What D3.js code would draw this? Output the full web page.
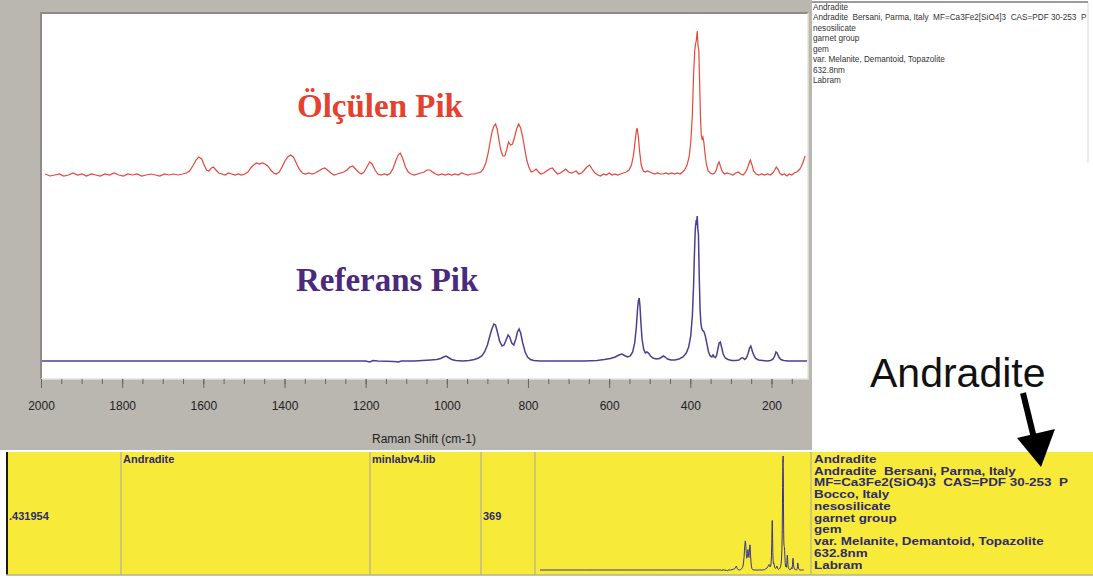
<!DOCTYPE html>
<html>
<head>
<meta charset="utf-8">
<script src="https://cdn.jsdelivr.net/npm/d3@7"></script>
<style>
body{margin:0;background:#fff}
svg{display:block}
text{white-space:pre}
</style>
</head>
<body>
<svg id="chart" width="1093" height="578"></svg>
<script>
// measured spectrum (Raman shift cm-1, intensity above baseline)
const measured=[[1990,1],[1978,-1],[1966,0],[1955,1],[1944,-1],[1932,0],[1921,2],[1910,0],[1899,1],[1888,-1],[1876,1],[1865,0],[1854,-1],[1842,1],[1831,0],[1820,2],[1808,0],[1797,-1],[1786,1],[1775,0],[1763,1],[1752,-1],[1741,0],[1730,1],[1718,0],[1707,-1],[1696,1],[1685,0],[1673,1],[1662,0],[1651,1],[1642,2],[1634,4],[1626,9],[1618,15],[1611,18],[1604,16],[1598,10],[1592,5],[1586,4],[1580,7],[1575,8],[1569,5],[1562,2],[1554,1],[1546,0],[1538,2],[1530,1],[1522,0],[1514,1],[1506,0],[1498,1],[1490,3],[1483,7],[1476,10],[1469,12],[1462,11],[1455,12],[1448,11],[1441,9],[1434,5],[1427,2],[1420,1],[1413,3],[1406,8],[1399,14],[1392,18],[1385,20],[1378,18],[1371,12],[1364,6],[1356,2],[1348,1],[1340,2],[1332,1],[1324,2],[1316,4],[1308,6],[1301,7],[1294,5],[1286,2],[1278,0],[1270,1],[1262,2],[1254,3],[1246,5],[1239,8],[1232,9],[1225,6],[1218,3],[1211,1],[1204,3],[1197,8],[1190,13],[1184,11],[1177,5],[1170,1],[1162,0],[1154,1],[1146,0],[1139,2],[1132,7],[1126,14],[1120,20],[1115,22],[1109,17],[1102,8],[1095,3],[1088,1],[1080,0],[1072,1],[1064,2],[1056,3],[1049,5],[1042,5],[1035,3],[1028,1],[1020,0],[1012,1],[1004,0],[996,1],[988,0],[980,1],[972,0],[964,2],[956,1],[948,0],[940,1],[932,1],[924,2],[916,3],[910,6],[904,12],[898,22],[893,34],[888,44],[884,49],[880,51],[876,46],[872,36],[867,25],[862,19],[857,19],[852,26],[848,33],[843,30],[838,31],[833,38],[828,46],[823,51],[818,47],[813,38],[808,26],[803,15],[798,8],[792,3],[786,4],[780,6],[774,3],[768,1],[761,2],[754,4],[747,6],[740,7],[734,4],[727,1],[720,2],[713,4],[707,6],[700,3],[693,2],[687,3],[681,4],[675,1],[668,2],[661,5],[655,8],[648,10],[642,6],[635,2],[628,0],[621,-1],[614,1],[607,0],[600,2],[593,0],[586,1],[579,0],[572,1],[565,2],[558,3],[551,5],[545,10],[540,20],[536,34],[533,44],[531,47],[528,38],[525,24],[521,10],[516,4],[511,3],[506,4],[500,3],[494,2],[488,1],[481,2],[474,1],[467,1],[460,2],[453,1],[446,2],[439,1],[432,2],[425,1],[419,3],[414,5],[408,10],[403,18],[399,32],[395,60],[392,100],[389,125],[387,131],[385,135],[383,144],[381,130],[379,124],[377,92],[375,58],[373,40],[371,36],[369,38],[367,34],[364,22],[360,10],[356,4],[351,2],[345,1],[340,2],[336,5],[332,11],[329,13],[326,9],[322,4],[316,1],[309,2],[302,1],[295,0],[288,2],[282,3],[276,1],[270,0],[265,2],[260,6],[256,11],[252,15],[248,10],[244,4],[238,1],[231,0],[224,1],[217,0],[210,1],[203,0],[197,2],[192,5],[188,8],[184,6],[180,2],[174,0],[168,1],[162,-1],[156,1],[150,0],[144,2],[138,3],[132,5],[127,8],[122,13],[117,19]]

// library reference spectrum (Andradite)
const reference=[[3600,0],[3000,0],[2500,0],[2000,0],[1800,0],[1600,0],[1400,0],[1200,0],[1190,-1],[1182,0.5],[1170,0],[1130,-0.5],[1120,-1],[1112,0],[1080,0],[1060,0.5],[1040,1],[1025,1.5],[1015,2.5],[1008,4],[1002,5],[996,3.5],[988,1.5],[978,0.5],[960,0],[945,0.5],[932,1.5],[922,3],[914,5],[907,9],[900,16],[894,25],[889,32],[884,37],[880,36],[876,30],[870,20],[864,15],[859,16],[854,21],[849,26],[845,24],[840,18],[835,16],[830,22],[826,29],[822,32],[818,28],[813,18],[807,9],[801,4],[794,1.5],[786,0.5],[770,0],[740,0],[700,0],[660,0],[630,0.5],[612,1.5],[597,2.5],[585,4],[576,6],[569,7],[562,5.5],[555,4],[548,5],[542,9],[537,18],[533,34],[530,52],[528,60],[526,63],[524,55],[522,40],[519,22],[515,12],[511,8],[507,9],[503,8],[498,5],[492,3],[484,2],[476,2.5],[470,4],[466,5],[462,4],[456,2],[448,1],[438,1],[428,2],[418,4],[410,8],[404,14],[399,25],[395,45],[392,75],[390,105],[388,130],[386,139],[384.5,138],[383,145],[381.5,132],[380,127],[378,85],[376,52],[374,38],[372,33],[370,31],[368,30],[366,29],[363,25],[359,17],[355,9],[351,5],[347,4],[344,6],[341,4],[338,3.5],[335,6],[332,12],[329,18],[326,19],[323,14],[319,7],[314,3],[307,1.5],[298,0.5],[288,0.5],[280,1],[274,3],[270,3],[266,1.5],[262,3],[258,7],[254,13],[251,15],[248,11],[244,6],[239,2.5],[232,1],[222,0.5],[210,0],[202,0.5],[196,2],[192,5],[189,9],[186,8],[182,4],[177,1.5],[170,0.5],[158,0],[140,0],[120,0],[110,0]]

const majorTicks=[2000,1800,1600,1400,1200,1000,800,600,400,200]
const minorTicks=d3.range(2000,100,-50)

const infoLines=["Andradite","Andradite  Bersani, Parma, Italy  MF=Ca3Fe2[SiO4]3  CAS=PDF 30-253  P","nesosilicate","garnet group","gem","var. Melanite, Demantoid, Topazolite","632.8nm","Labram"]
const hitLines=["Andradite","Andradite  Bersani, Parma, Italy","MF=Ca3Fe2(SiO4)3  CAS=PDF 30-253  P","Bocco, Italy","nesosilicate","garnet group","gem","var. Melanite, Demantoid, Topazolite","632.8nm","Labram"]
const hitScore=".431954"
const hitName="Andradite"
const hitLibrary="minlabv4.lib"
const hitIndex="369"

const svg=d3.select("#chart")
const sans="'Liberation Sans', Arial, sans-serif"

// gray window background
svg.append("rect").attr("x",0).attr("y",0).attr("width",812).attr("height",450).attr("fill","#bab6b0")

// plot area
const plot={left:41,top:13,right:808,bottom:379}
svg.append("rect").attr("x",plot.left).attr("y",plot.top).attr("width",plot.right-plot.left).attr("height",plot.bottom-plot.top).attr("fill","#fff")
svg.append("path").attr("d",`M${plot.left},${plot.bottom}V${plot.top}H${plot.right}`).attr("fill","none").attr("stroke","#8e8b86").attr("stroke-width",2)
svg.append("path").attr("d",`M${plot.right},${plot.top}V${plot.bottom}H${plot.left}`).attr("fill","none").attr("stroke","#e4e2de").attr("stroke-width",1.5)
svg.append("clipPath").attr("id","plotClip").append("rect").attr("x",plot.left+1).attr("y",plot.top+1).attr("width",plot.right-plot.left-2).attr("height",plot.bottom-plot.top-2)

const x=d3.scaleLinear().domain([2000,110]).range([plot.left,plot.right])
const yMeas=d3.scaleLinear().domain([0,144]).range([175,31])
const yRef=d3.scaleLinear().domain([0,145]).range([361,216])

// axis: minor and major ticks
svg.append("g").attr("transform",`translate(0,${plot.bottom})`)
    .call(d3.axisBottom(x).tickValues(minorTicks).tickSize(5).tickFormat(""))
    .call(g=>{g.select(".domain").remove();g.selectAll("line").attr("stroke","#666")})
svg.append("g").attr("transform",`translate(0,${plot.bottom})`)
    .call(d3.axisBottom(x).tickValues(majorTicks).tickSize(9).tickPadding(13).tickFormat(d3.format("d")))
    .call(g=>{
        g.select(".domain").remove()
        g.selectAll("line").attr("stroke","#666")
        g.selectAll("text").attr("font-family",sans).attr("font-size",12).attr("fill","#222")
    })
svg.append("text").attr("x",424).attr("y",443).attr("text-anchor","middle").attr("font-family",sans).attr("font-size",12).attr("fill","#222").text("Raman Shift (cm-1)")

// spectra
const plotG=svg.append("g").attr("clip-path","url(#plotClip)")
plotG.append("path").datum(measured)
    .attr("d",d3.line().x(d=>x(d[0])).y(d=>yMeas(d[1])))
    .attr("fill","none").attr("stroke","#e5473a").attr("stroke-width",1.2)
plotG.append("path").datum(reference.filter(d=>d[0]<=2000))
    .attr("d",d3.line().x(d=>x(d[0])).y(d=>yRef(d[1])))
    .attr("fill","none").attr("stroke","#4e3f90").attr("stroke-width",1.5)

svg.append("text").attr("x",297).attr("y",117).attr("font-family","'Liberation Serif','Times New Roman',serif").attr("font-weight","bold").attr("font-size",33).attr("fill","#e5412e").text("Ölçülen Pik")
svg.append("text").attr("x",296).attr("y",291).attr("font-family","'Liberation Serif','Times New Roman',serif").attr("font-weight","bold").attr("font-size",33).attr("fill","#4a2a7c").text("Referans Pik")

// top right info box
svg.append("clipPath").attr("id","boxClip").append("rect").attr("x",812).attr("y",2).attr("width",275).attr("height",161)
svg.append("path").attr("d","M812,2H1088V163").attr("fill","none").attr("stroke","#d6d6d6").attr("stroke-width",1)
svg.append("path").attr("d","M812,2H1088").attr("stroke","#9c9c9c").attr("stroke-width",2)
const infoG=svg.append("g").attr("clip-path","url(#boxClip)").append("g")
infoG.selectAll("text").data(infoLines).join("text")
    .attr("x",0).attr("y",(d,i)=>10+i*10.5)
    .attr("font-family",sans).attr("font-size",9.5).attr("fill","#333").text(d=>d)
const infoW=infoG.selectAll("text").filter(d=>d.startsWith("var.")).node().getComputedTextLength()
infoG.attr("transform",`translate(813,0) scale(${132/infoW},1)`)

// yellow hit list row
svg.append("rect").attr("x",6).attr("y",452).attr("width",1087).attr("height",123).attr("fill","#f8ea38")
svg.append("line").attr("x1",7).attr("x2",7).attr("y1",452).attr("y2",575).attr("stroke","#1a1a1a").attr("stroke-width",2)
svg.append("line").attr("x1",6).attr("x2",1093).attr("y1",575).attr("y2",575).attr("stroke","#b5b092").attr("stroke-width",1.5)
;[121,370,481,535,811].forEach(c=>{
    svg.append("line").attr("x1",c).attr("x2",c).attr("y1",452).attr("y2",575).attr("stroke","#b5b092").attr("stroke-width",1.2)
})
const cellText=(tx,ty,s)=>svg.append("text").attr("x",tx).attr("y",ty).attr("font-family",sans).attr("font-weight","bold").attr("font-size",11).attr("fill","#2f2a6a").text(s)
cellText(9,520,hitScore)
cellText(123,463,hitName)
cellText(372,463,hitLibrary)
cellText(483,520,hitIndex)

// mini reference spectrum in the hit row
const xMini=d3.scaleLinear().domain([3600,80]).range([540,806])
const yMini=d3.scaleLinear().domain([0,145]).range([570,456])
svg.append("path").datum(reference)
    .attr("d",d3.line().x(d=>xMini(d[0])).y(d=>yMini(d[1])))
    .attr("fill","none").attr("stroke","#3a3688").attr("stroke-width",1)

const hitG=svg.append("g")
hitG.selectAll("text").data(hitLines).join("text")
    .attr("x",0).attr("y",(d,i)=>463+i*11.75)
    .attr("font-family",sans).attr("font-weight","bold").attr("font-size",11).attr("fill","#2f2a6a").text(d=>d)
const hitW=hitG.selectAll("text").filter(d=>d.startsWith("var.")).node().getComputedTextLength()
hitG.attr("transform",`translate(814,0) scale(${230/hitW},1)`)

// annotation
svg.append("text").attr("x",870).attr("y",387).attr("font-family",sans).attr("font-size",41).attr("fill","#111").text("Andradite")
svg.append("line").attr("x1",1023).attr("y1",393).attr("x2",1034).attr("y2",438).attr("stroke","#000").attr("stroke-width",6)
svg.append("path").attr("d","M1017,438L1055,429L1041,467Z").attr("fill","#000")
</script>
</body>
</html>
